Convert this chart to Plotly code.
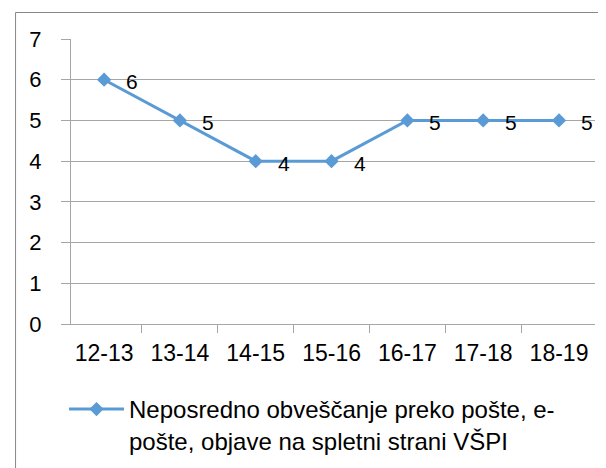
import plotly.graph_objects as go

categories = ["12-13", "13-14", "14-15", "15-16", "16-17", "17-18", "18-19"]
values = [6, 5, 4, 4, 5, 5, 5]
series_name = "Neposredno obveščanje preko pošte, e-<br>pošte, objave na spletni strani VŠPI"
y_ticks = [0, 1, 2, 3, 4, 5, 6, 7]

FONT = "Liberation Sans"
BLUE = "#5B9BD5"
GRID = "#A6A6A6"

# vertical page offset compensation
OFFY = 8
W, H = 606, 468 - OFFY
L, T = 63, 39 - OFFY
R = W - 587.5
B = H - (324 - OFFY)
pw, ph = W - L - R, H - T - B

fig = go.Figure()
fig.add_trace(go.Scatter(
    x=categories, y=values, name=series_name, mode="lines+markers",
    line=dict(color=BLUE, width=3),
    marker=dict(symbol="diamond", size=11, color=BLUE),
))

for c, v in zip(categories, values):
    fig.add_annotation(x=c, y=v, text=str(v), showarrow=False,
                       xshift=28, yshift=-2,
                       font=dict(family=FONT, size=21, color="#000000"))

# outer chart border (right and bottom edges lie outside the picture)
fig.add_shape(type="rect", xref="paper", yref="paper",
              x0=(7.5 - L) / pw, x1=(W + 10 - L) / pw,
              y0=-(H + 10 - T - ph) / ph, y1=1 + (39 - 12.5) / ph,
              line=dict(color="#878787", width=1), fillcolor="rgba(0,0,0,0)")

fig.update_layout(
    width=W, height=H,
    margin=dict(l=L, r=R, t=T, b=B, autoexpand=False),
    paper_bgcolor="white", plot_bgcolor="white",
    font=dict(family=FONT, size=22, color="#000000"),
    showlegend=True,
    legend=dict(x=(56 - 63) / pw, xanchor="left", y=-(387 - 324) / ph, yanchor="top",
                font=dict(family=FONT, size=24), bgcolor="rgba(0,0,0,0)",
                valign="top", itemwidth=55, tracegroupgap=0),
    xaxis=dict(
        type="category", tickson="boundaries", ticks="outside", ticklen=8,
        tickcolor=GRID, showgrid=False, showline=True, linecolor=GRID, linewidth=1,
        ticklabelstandoff=8, zeroline=False, tickfont=dict(size=23),
    ),
    yaxis=dict(
        range=[0, 7], tickvals=y_ticks, ticks="outside", ticklen=9, tickcolor=GRID,
        showgrid=True, gridcolor=GRID, gridwidth=1, showline=True, linecolor=GRID,
        linewidth=1, zeroline=False, ticklabelstandoff=15,
    ),
)

fig.write_html("out.html")
